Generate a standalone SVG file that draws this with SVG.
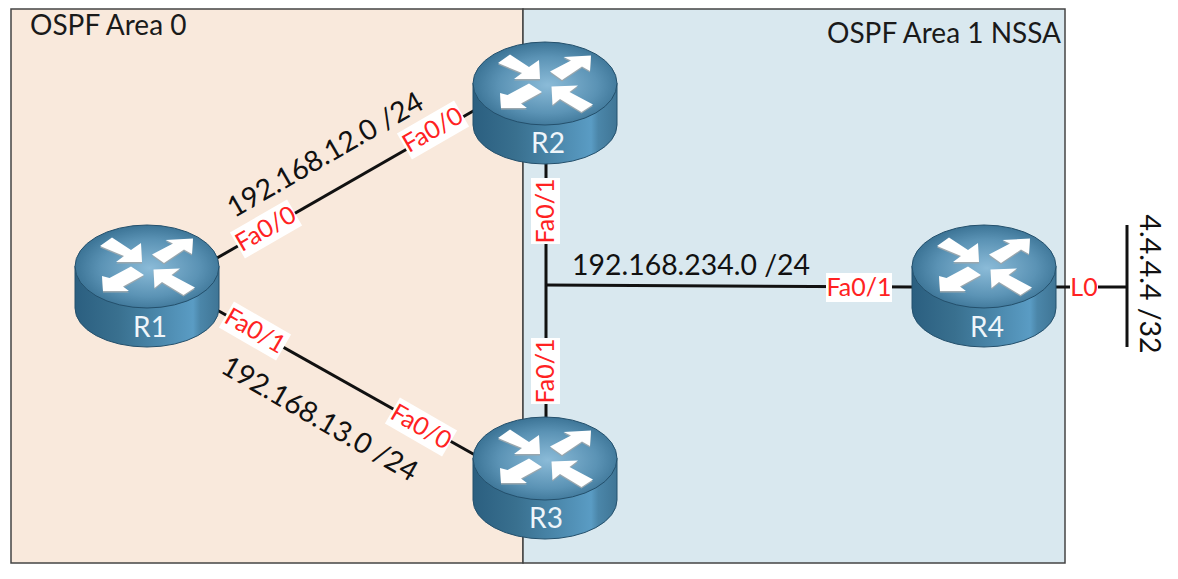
<svg xmlns="http://www.w3.org/2000/svg" xmlns:xlink="http://www.w3.org/1999/xlink" width="1178" height="579" viewBox="0 0 1178 579">
<style>
text{font-family:"Lato","Open Sans","Liberation Sans",sans-serif}
.area{font-size:28px;fill:#1a1a1a}
.net{font-size:28.4px;fill:#111;text-anchor:middle}
.port{font-size:25px;fill:#f22;text-anchor:middle}
.name{font-size:28px;fill:#eef5fa;text-anchor:middle}
.lnk{stroke:#111;stroke-width:3;fill:none}
.bg{fill:#fff}
</style>
<defs>
<linearGradient id="side" x1="0" x2="1" y1="0" y2="0">
<stop offset="0" stop-color="#2b5f80"/><stop offset=".3" stop-color="#39708f"/><stop offset=".82" stop-color="#5a9cc4"/><stop offset=".87" stop-color="#4b86a9"/><stop offset="1" stop-color="#3f7595"/>
</linearGradient>
<radialGradient id="top" cx=".52" cy=".52" r=".62">
<stop offset="0" stop-color="#8bbbd8"/><stop offset=".55" stop-color="#5b93b5"/><stop offset="1" stop-color="#2b6385"/>
</radialGradient>
<g id="arrows">
<polygon points="25,21 37,12.5 56,25 66,18 67,37 41,37 49,31"/>
<polygon points="77,29.5 98,18.5 90.5,15 118,13.5 117,29 109,24.5 89,38"/>
<polygon points="28,66 27,51 34.5,53 56,41.5 69,50 48,61.5 54,66"/>
<polygon points="78.5,44.5 105,43.5 96.5,50 120,62.5 108.5,70 87,57 79.5,63"/>
</g>
<g id="router">
<path d="M0,41 V83 A72,39 0 0 0 144,83 V41 Z" fill="url(#side)" stroke="#24506c" stroke-width="1"/>
<ellipse cx="72" cy="41.5" rx="72" ry="41.5" fill="url(#top)" stroke="#24506c" stroke-width="1"/>
<use xlink:href="#arrows" href="#arrows" y="1.5" fill="#9aa7ae"/>
<use xlink:href="#arrows" href="#arrows" fill="#fff"/>
</g>
</defs>
<rect width="1178" height="579" fill="#fff"/>
<g id="areas">
<rect x="11" y="9" width="512" height="554" fill="#f9e9dc" stroke="#444" stroke-width="1.5"/>
<rect x="523" y="9" width="542" height="554" fill="#d9e8ef" stroke="#444" stroke-width="1.5"/>
<text class="area" x="30" y="35">OSPF Area 0</text>
<text class="area" x="827" y="43">OSPF Area 1 NSSA</text>
</g>
<g id="connectors">
<line class="lnk" x1="217" y1="258" x2="475" y2="110"/>
<line class="lnk" x1="217" y1="310" x2="475" y2="455"/>
<line class="lnk" x1="546" y1="150" x2="546" y2="420"/>
<line class="lnk" x1="546" y1="285" x2="914" y2="287"/>
<line class="lnk" x1="1055" y1="287" x2="1127" y2="287"/>
<line class="lnk" x1="1127" y1="225" x2="1127" y2="347"/>
</g>
<g id="R1"><use xlink:href="#router" href="#router" x="75" y="225"/><text class="name" x="150" y="337">R1</text></g>
<g id="R2"><use xlink:href="#router" href="#router" x="473" y="42"/><text class="name" x="548" y="153">R2</text></g>
<g id="R3"><use xlink:href="#router" href="#router" x="473" y="417"/><text class="name" x="546" y="528">R3</text></g>
<g id="R4"><use xlink:href="#router" href="#router" x="912" y="225"/><text class="name" x="987" y="337">R4</text></g>
<g id="labels">
<text class="net" transform="translate(330,163) rotate(-30)">192.168.12.0 /24</text>
<text class="net" transform="translate(315,427) rotate(30)">192.168.13.0 /24</text>
<text class="net" x="691" y="275">192.168.234.0 /24</text>
<text class="net" transform="translate(1140,284) rotate(90)">4.4.4.4 /32</text>
<g transform="translate(266,229) rotate(-30)"><rect class="bg" x="-33" y="-15" width="66" height="30"/><text class="port" y="8">Fa0/0</text></g>
<g transform="translate(433,130) rotate(-30)"><rect class="bg" x="-33" y="-15" width="66" height="30"/><text class="port" y="8">Fa0/0</text></g>
<g transform="translate(255,331) rotate(30)"><rect class="bg" x="-33" y="-15" width="66" height="30"/><text class="port" y="8">Fa0/1</text></g>
<g transform="translate(421,427) rotate(30)"><rect class="bg" x="-33" y="-15" width="66" height="30"/><text class="port" y="8">Fa0/0</text></g>
<g transform="translate(546,211) rotate(-90)"><rect class="bg" x="-33" y="-15" width="66" height="29"/><text class="port" y="8">Fa0/1</text></g>
<g transform="translate(546,371) rotate(-90)"><rect class="bg" x="-33" y="-15" width="66" height="29"/><text class="port" y="8">Fa0/1</text></g>
<g transform="translate(859,287)"><rect class="bg" x="-33" y="-14" width="66" height="29"/><text class="port" y="9">Fa0/1</text></g>
<g transform="translate(1084,287)"><rect class="bg" x="-14" y="-12" width="28" height="24"/><text class="port" y="9">L0</text></g>
</g>
</svg>
